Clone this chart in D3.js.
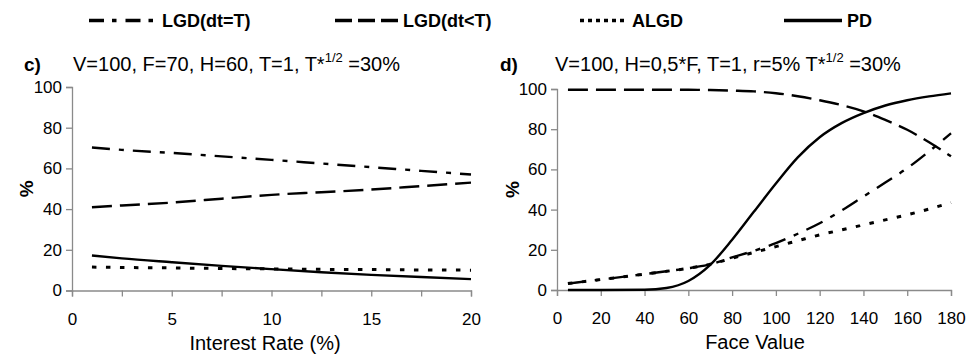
<!DOCTYPE html>
<html>
<head>
<meta charset="utf-8">
<script src="https://cdn.jsdelivr.net/npm/d3@7"></script>
<style>
  html, body { margin: 0; padding: 0; background: #fff; }
  svg { display: block; font-family: "Liberation Sans", Arial, sans-serif; }
</style>
</head>
<body>
<svg id="chart" width="968" height="356"></svg>
<script>
// Panel c): sensitivity to the interest rate
const rateX = [1, 2.5, 5, 7.5, 10, 12.5, 15, 17.5, 20];
const rateLgdT    = [70.3, 69.1, 67.6, 65.9, 64.2, 62.4, 60.6, 58.8, 57.0];
const rateLgdLtT  = [40.9, 41.8, 43.2, 45.1, 47.0, 48.3, 49.6, 51.3, 53.0];
const rateAlgd    = [11.5, 11.3, 11.1, 10.8, 10.6, 10.4, 10.3, 10.1, 10.0];
const ratePd      = [17.2, 15.8, 13.9, 12.1, 10.5, 9.0, 7.7, 6.6, 5.6];

// Panel d): sensitivity to the face value
const faceX = [5, 20, 40, 50, 60, 70, 80, 90, 100, 110, 120, 130, 140, 150, 160, 170, 180];
const faceLgdT   = [3.2, 5.2, 7.9, 9.3, 10.8, 12.8, 16.2, 19.5, 23.3, 28.0, 33.2, 39.5, 46.5, 53.5, 60.6, 69.0, 78.0];
const faceLgdLtT = [99.6, 99.6, 99.6, 99.6, 99.6, 99.5, 99.2, 98.8, 97.9, 96.4, 94.4, 92.0, 88.9, 84.6, 79.7, 73.5, 66.5];
const faceAlgd   = [3.2, 5.2, 7.9, 9.3, 10.8, 12.8, 15.8, 18.7, 21.6, 24.5, 27.4, 29.9, 32.4, 34.9, 37.4, 40.3, 43.5];
const facePd     = [0.0, 0.0, 0.1, 1.0, 4.5, 12.5, 25.0, 39.0, 53.0, 66.0, 76.0, 83.0, 88.0, 91.8, 94.4, 96.3, 97.8];

const yTicks = [0, 20, 40, 60, 80, 100];
const rateTicks = [0, 2.5, 5, 7.5, 10, 12.5, 15, 17.5, 20];
const rateLabels = [0, 5, 10, 15, 20];
const faceTicks = [0, 20, 40, 60, 80, 100, 120, 140, 160, 180];

const seriesNames = ["LGD(dt=T)", "LGD(dt<T)", "ALGD", "PD"];

// line styles per series (chart body)
const styles = {
  "LGD(dt=T)": { dash: "18,9,5,9", width: 2.4 },
  "LGD(dt<T)": { dash: "20,8", width: 2.4 },
  "ALGD":      { dash: "4.5,9.5", width: 3 },
  "PD":        { dash: null, width: 2.4 }
};
// line styles in the legend
const legendDash = {
  "LGD(dt=T)": "15,8,4.5,9",
  "LGD(dt<T)": "17,6",
  "ALGD":      "4,4",
  "PD":        null
};

const svg = d3.select("#chart");
const axisColor = "#8a8a8a";

function panel(opt) {
  const x = d3.scaleLinear().domain(opt.xDomain).range([opt.left, opt.right]);
  const y = d3.scaleLinear().domain([0, 100]).range([opt.bottom, opt.top]);
  const g = svg.append("g");

  // y axis
  const ya = g.append("g")
    .attr("transform", `translate(${opt.left},0)`)
    .call(d3.axisLeft(y).tickValues(yTicks).tickSize(6).tickPadding(4));
  // x axis
  const xa = g.append("g")
    .attr("transform", `translate(0,${opt.bottom})`)
    .call(d3.axisBottom(x).tickValues(opt.xTicks).tickSize(6).tickPadding(16)
      .tickFormat(d => opt.xLabels.includes(d) ? d : ""));
  [ya, xa].forEach(a => {
    a.selectAll("path.domain").attr("stroke", axisColor).attr("stroke-width", 1.3);
    a.selectAll(".tick line").attr("stroke", axisColor).attr("stroke-width", 1.3);
    a.selectAll(".tick text").attr("fill", "#000").attr("font-size", 17)
      .attr("font-family", "Liberation Sans, Arial, sans-serif");
  });

  // series
  const line = d3.line().x(d => x(d[0])).y(d => y(d[1])).curve(d3.curveMonotoneX);
  opt.series.forEach((vals, i) => {
    const name = seriesNames[i];
    const st = styles[name];
    const p = g.append("path")
      .attr("d", line(opt.xs.map((v, k) => [v, vals[k]])))
      .attr("fill", "none")
      .attr("stroke", "#000")
      .attr("stroke-width", st.width);
    if (st.dash) p.attr("stroke-dasharray", st.dash);
  });

  // y axis title
  g.append("text")
    .attr("transform", `translate(${opt.yTitleX},${(opt.top + opt.bottom) / 2}) rotate(-90)`)
    .attr("text-anchor", "middle")
    .attr("font-size", 19).attr("font-weight", "bold")
    .text("%");

  // x axis title
  g.append("text")
    .attr("x", opt.xTitleX).attr("y", opt.bottom + 59)
    .attr("text-anchor", "middle")
    .attr("font-size", 20)
    .text(opt.xTitle);

  // panel letter and parameter line
  g.append("text")
    .attr("x", opt.letterX).attr("y", 71)
    .attr("font-size", 19).attr("font-weight", "bold")
    .text(opt.letter);
  const t = g.append("text")
    .attr("x", opt.titleX).attr("y", 71)
    .attr("font-size", 20);
  t.append("tspan").text(opt.title);
  t.append("tspan").attr("font-size", 13).attr("dy", -9).text("1/2");
  t.append("tspan").attr("dy", 9).text(" =30%");
}

panel({
  xDomain: [0, 20], left: 72, right: 471, top: 87, bottom: 290.5,
  xs: rateX, series: [rateLgdT, rateLgdLtT, rateAlgd, ratePd],
  xTicks: rateTicks, xLabels: rateLabels,
  xTitle: "Interest Rate (%)", xTitleX: 265, yTitleX: 33,
  letter: "c)", letterX: 24, titleX: 73,
  title: "V=100, F=70, H=60, T=1, T*"
});

panel({
  xDomain: [0, 180], left: 557, right: 951, top: 89, bottom: 290,
  xs: faceX, series: [faceLgdT, faceLgdLtT, faceAlgd, facePd],
  xTicks: faceTicks, xLabels: faceTicks,
  xTitle: "Face Value", xTitleX: 755, yTitleX: 519,
  letter: "d)", letterX: 500, titleX: 555,
  title: "V=100, H=0,5*F, T=1, r=5% T*"
});

// legend
const legendItems = [
  { name: "LGD(dt=T)", x0: 89, x1: 157 },
  { name: "LGD(dt<T)", x0: 335, x1: 398 },
  { name: "ALGD",      x0: 580, x1: 627 },
  { name: "PD",        x0: 784, x1: 842 }
];
const lg = svg.append("g");
legendItems.forEach(it => {
  const l = lg.append("line")
    .attr("x1", it.x0).attr("x2", it.x1).attr("y1", 20.5).attr("y2", 20.5)
    .attr("stroke", "#000").attr("stroke-width", 3.4);
  if (legendDash[it.name]) l.attr("stroke-dasharray", legendDash[it.name]);
  lg.append("text")
    .attr("x", it.x1 + 5).attr("y", 27)
    .attr("font-size", 18).attr("font-weight", "bold")
    .text(it.name);
});
</script>
</body>
</html>
